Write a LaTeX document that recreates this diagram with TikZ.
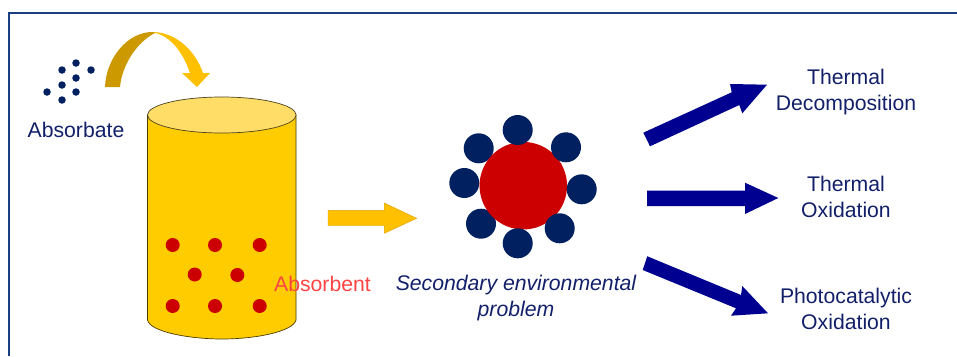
\documentclass[tikz,border=0pt]{standalone}
\usepackage{fontspec}
\setmainfont{Liberation Sans}
\definecolor{navytext}{HTML}{12206A}
\definecolor{dotblue}{HTML}{002060}
\definecolor{framecol}{HTML}{1A3F80}
\definecolor{arrowblue}{HTML}{000090}
\definecolor{gold}{HTML}{FFC000}
\definecolor{darkgold}{HTML}{CC9A00}
\definecolor{cylfill}{HTML}{FFCC00}
\definecolor{cyltop}{HTML}{FFDD66}
\definecolor{redcol}{HTML}{CC0000}
\definecolor{absred}{HTML}{FF4444}
\tikzset{
  lbl/.style={font=\fontsize{21.2}{25.8}\selectfont, text=navytext, align=center, inner sep=0pt},
  tinydot/.style={circle, fill=dotblue, minimum size=7.5pt, inner sep=0pt},
  reddot/.style={circle, fill=redcol, minimum size=14pt, inner sep=0pt},
  bigdot/.style={circle, fill=dotblue, minimum size=30pt, inner sep=0pt},
  blockblue/.style={fill=arrowblue},
  blockgold/.style={fill=gold, draw=gold!85!black, line width=0.4pt}
}
\begin{document}
\begin{tikzpicture}[x=1pt,y=-1pt]
\useasboundingbox (0,0) rectangle (957,356);
% frame
\draw[framecol, line width=1.5pt] (9,356) -- (9,13) -- (957,13);
% absorbate dots
\foreach \n/\x/\y in {a/76/63,b/62/70,c/91/70,d/76/78,e/62/85,f/76/92,g/47/92,h/62/100}
  \node[tinydot] (ad\n) at (\x,\y) {};
% curved arrow
\fill[darkgold] (105,87) .. controls (106,58) and (128,31) .. (154,32)
  -- (155,33) .. controls (137,42) and (122,65) .. (120,87) -- cycle;
\fill[gold] (154,32) .. controls (176,33) and (195,50) .. (203,73)
  -- (210,73) -- (197,87) -- (182,73) -- (190,73)
  .. controls (183,52) and (170,36) .. (155,33) -- cycle;
% cylinder
\fill[cylfill, draw=black!70!cylfill, line width=0.7pt]
  (147.5,115) -- (147.5,320) .. controls (150,332) and (190,339) .. (222,339)
  .. controls (254,339) and (293,332) .. (296,320) -- (296,115) -- cycle;
\filldraw[fill=cyltop, draw=black!70!cyltop, line width=0.7pt] (221.8,115) ellipse [x radius=74.3pt, y radius=18pt];
% red dots
\foreach \n/\x/\y in {a/172.7/245,b/215/245,c/259.7/245,d/194.7/274.5,e/237.3/275,f/172.7/306,g/215/306,h/259.7/306}
  \node[reddot] (rd\n) at (\x,\y) {};
% gold arrow
\filldraw[blockgold] (328,210.3) -- (384.3,210.3) -- (384.3,203) -- (416.7,218.3)
  -- (384.3,233.3) -- (384.3,225.7) -- (328,225.7) -- cycle;
% molecule
\node[bigdot] (m1) at (478.7,148.3) {};
\node[bigdot] (m2) at (464.3,183) {};
\node[bigdot] (m3) at (481,223.7) {};
\node[circle, fill=redcol, minimum size=87.5pt, inner sep=0pt] (core) at (523.3,185.7) {};
\node[bigdot] (m4) at (517.7,130) {};
\node[bigdot] (m5) at (566,147.3) {};
\node[bigdot] (m6) at (581.7,189.3) {};
\node[bigdot] (m7) at (559.7,228.3) {};
\node[bigdot] (m8) at (517.7,243.3) {};
% blue arrows
\fill[blockblue] (643.3,132.7) -- (731.7,92.3) -- (730,84) -- (767,84.7)
  -- (742.3,113.3) -- (739.3,105) -- (650,146.3) -- cycle;
\fill[blockblue] (647,190.7) -- (745,190.7) -- (745,182.7) -- (778.3,198)
  -- (745,214) -- (745,206) -- (647,206) -- cycle;
\fill[blockblue] (647.3,256.3) -- (741,295) -- (742.3,286) -- (768,313.3)
  -- (731,315.7) -- (736,308.3) -- (642.7,270) -- cycle;
% labels
\node[lbl] (absorbate) at (76,130) {Absorbate};
\node[lbl, text=absred] (absorbent) at (322.5,284) {Absorbent};
\node[lbl] (secondary) at (516,298) {\itshape Secondary environmental\\\itshape problem};
\node[lbl] (t1) at (846,92) {Thermal\\Decomposition};
\node[lbl] (t2) at (846,197) {Thermal\\Oxidation};
\node[lbl] (t3) at (846,309) {Photocatalytic\\Oxidation};
\end{tikzpicture}
\end{document}
